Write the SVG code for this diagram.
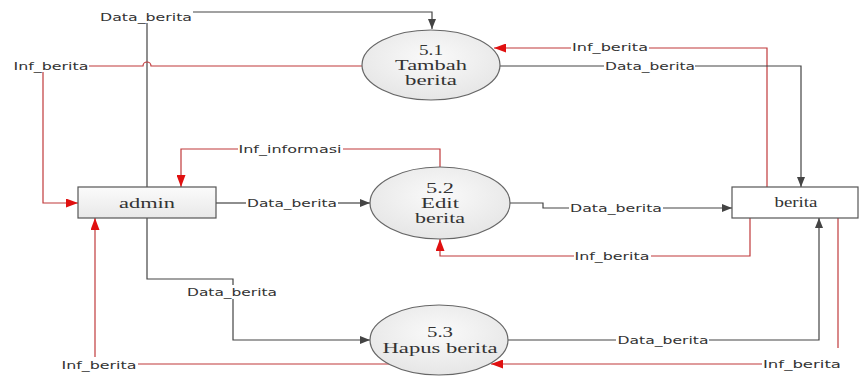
<svg xmlns="http://www.w3.org/2000/svg" width="860" height="376" viewBox="0 0 860 376">
<defs>
<style>
.lbl{font-family:"DejaVu Sans","Liberation Sans",sans-serif;font-size:11px;fill:#333;text-anchor:middle;dominant-baseline:central}
.nt{font-family:"Liberation Serif","DejaVu Serif",serif;font-size:14px;fill:#333;text-anchor:middle;dominant-baseline:central}
.blk{fill:none;stroke:#444;stroke-width:1.2}
.red{fill:none;stroke:#c0393b;stroke-width:1.2}
.proc{fill:url(#gc);stroke:#666;stroke-width:1.2}
.box{stroke:#555;stroke-width:1.2}
</style>
<radialGradient id="gc" cx="50%" cy="40%" r="60%"><stop offset="0" stop-color="#fafafa"/><stop offset="1" stop-color="#e6e6e6"/></radialGradient>
<linearGradient id="gb" x1="0" y1="0" x2="0" y2="1"><stop offset="0" stop-color="#fbfbfb"/><stop offset="1" stop-color="#e8e8e8"/></linearGradient>
<marker id="ab" markerWidth="10" markerHeight="8" refX="10" refY="4" orient="auto" markerUnits="userSpaceOnUse"><path d="M0,0 L10,4 L0,8 Z" fill="#444"/></marker>
<marker id="ar" markerWidth="12" markerHeight="9" refX="12" refY="4.5" orient="auto" markerUnits="userSpaceOnUse"><path d="M0,0 L12,4.5 L0,9 Z" fill="#e01010"/></marker>
</defs>
<rect width="860" height="376" fill="#fff"/>
<g id="connectors">
<path class="blk" d="M147,187 V23"/>
<path class="blk" d="M193,12 H432 V29" marker-end="url(#ab)"/>
<text class="lbl" x="146" y="17" textLength="92" lengthAdjust="spacingAndGlyphs">Data_berita</text>

<path class="red" d="M362,66 H151 a4,4 0 0 0 -8,0 H89"/>
<text class="lbl" x="51" y="66" textLength="75" lengthAdjust="spacingAndGlyphs">Inf_berita</text>
<path class="red" d="M43,72 V203 H78" marker-end="url(#ar)"/>

<path class="red" d="M440,167 V149 H343"/>
<text class="lbl" x="290" y="149" textLength="103" lengthAdjust="spacingAndGlyphs">Inf_informasi</text>
<path class="red" d="M238,149 H181 V187" marker-end="url(#ar)"/>

<path class="blk" d="M216,203 H246"/>
<text class="lbl" x="292" y="203" textLength="90" lengthAdjust="spacingAndGlyphs">Data_berita</text>
<path class="blk" d="M338,203 H370" marker-end="url(#ab)"/>

<path class="blk" d="M509,203 H543 V208 H569"/>
<text class="lbl" x="616" y="208" textLength="92" lengthAdjust="spacingAndGlyphs">Data_berita</text>
<path class="blk" d="M663,208 H732" marker-end="url(#ab)"/>

<path class="red" d="M750,218 V256 H651"/>
<text class="lbl" x="612" y="256" textLength="75" lengthAdjust="spacingAndGlyphs">Inf_berita</text>
<path class="red" d="M574,256 H440 V239" marker-end="url(#ar)"/>

<path class="red" d="M767,187 V48 H649"/>
<text class="lbl" x="610" y="47" textLength="76" lengthAdjust="spacingAndGlyphs">Inf_berita</text>
<path class="red" d="M571,48 H494" marker-end="url(#ar)"/>

<path class="blk" d="M500,66 H604"/>
<text class="lbl" x="650" y="66" textLength="90" lengthAdjust="spacingAndGlyphs">Data_berita</text>
<path class="blk" d="M695,66 H801 V187" marker-end="url(#ab)"/>

<path class="blk" d="M147,218 V279 H233 V285"/>
<text class="lbl" x="232" y="292" textLength="90" lengthAdjust="spacingAndGlyphs">Data_berita</text>
<path class="blk" d="M233,299 V340 H370" marker-end="url(#ab)"/>

<path class="blk" d="M508,340 H616"/>
<text class="lbl" x="663" y="340" textLength="91" lengthAdjust="spacingAndGlyphs">Data_berita</text>
<path class="blk" d="M709,340 H819 V218" marker-end="url(#ab)"/>

<path class="red" d="M838,218 V348"/>
<text class="lbl" x="802" y="364" textLength="78" lengthAdjust="spacingAndGlyphs">Inf_berita</text>
<path class="red" d="M762,364 H491" marker-end="url(#ar)"/>

<path class="red" d="M389,364 H138"/>
<text class="lbl" x="99" y="365" textLength="75" lengthAdjust="spacingAndGlyphs">Inf_berita</text>
<path class="red" d="M95,357 V218" marker-end="url(#ar)"/>
</g>
<g id="p51">
<ellipse class="proc" cx="431" cy="65" rx="69" ry="35"/>
<text class="nt" x="431" y="50" textLength="24" lengthAdjust="spacingAndGlyphs">5.1</text>
<text class="nt" x="431" y="65" textLength="72" lengthAdjust="spacingAndGlyphs">Tambah</text>
<text class="nt" x="431" y="80" textLength="52" lengthAdjust="spacingAndGlyphs">berita</text>
</g>
<g id="p52">
<ellipse class="proc" cx="440" cy="203" rx="70" ry="36"/>
<text class="nt" x="440" y="188" textLength="28" lengthAdjust="spacingAndGlyphs">5.2</text>
<text class="nt" x="440" y="203" textLength="38" lengthAdjust="spacingAndGlyphs">Edit</text>
<text class="nt" x="440" y="218" textLength="50" lengthAdjust="spacingAndGlyphs">berita</text>
</g>
<g id="p53">
<ellipse class="proc" cx="439" cy="340" rx="69" ry="35"/>
<text class="nt" x="440" y="332" textLength="26" lengthAdjust="spacingAndGlyphs">5.3</text>
<text class="nt" x="440" y="348" textLength="115" lengthAdjust="spacingAndGlyphs">Hapus berita</text>
</g>
<g id="admin">
<rect class="box" x="78" y="187" width="138" height="31" fill="url(#gb)"/>
<text class="nt" x="147" y="203" textLength="56" lengthAdjust="spacingAndGlyphs">admin</text>
</g>
<g id="berita">
<rect class="box" x="732" y="187" width="126" height="31" fill="#fff"/>
<text class="nt" x="796" y="202" textLength="43" lengthAdjust="spacingAndGlyphs">berita</text>
</g>
</svg>
